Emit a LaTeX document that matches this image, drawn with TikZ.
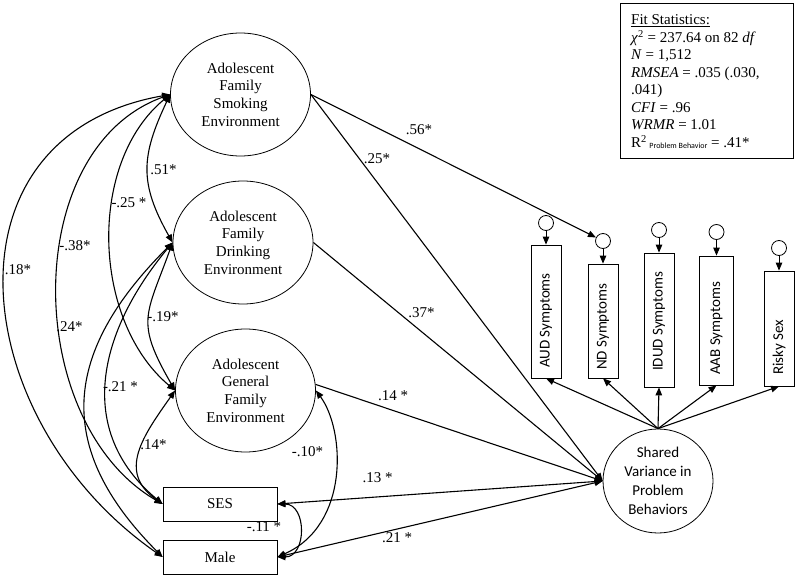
\documentclass[tikz,border=0pt]{standalone}
\usepackage{fontspec}
\setmainfont{Liberation Serif}
\newfontfamily\carlitofont{Carlito}
\usetikzlibrary{arrows.meta,shapes.geometric}
\begin{document}
\begin{tikzpicture}[x=1pt,y=-1pt,
  every node/.style={font=\fontsize{15}{17.7}\selectfont},
  latent/.style={draw, ellipse, line width=0.8pt, inner sep=0pt, align=center, minimum width=140pt, minimum height=123pt},
  obsbox/.style={draw, rectangle, line width=0.8pt, inner sep=0pt},
  errc/.style={draw, circle, line width=0.8pt, minimum size=15pt, inner sep=0pt},
  tip/.tip={Triangle[length=8pt,width=6.5pt]},
  reg/.style={line width=1.1pt, -tip},
  cov/.style={line width=1.1pt, tip-tip},
  lbl/.style={inner sep=0pt},
  indtext/.style={font=\carlitofont\fontsize{15}{18}\selectfont, rotate=90, anchor=west, inner sep=0pt},
  fitline/.style={anchor=base west, inner sep=0pt}
]
\useasboundingbox[fill=white] (0,0) rectangle (800,580);

% latent factors
\node[latent] (S) at (240.5,94.5) {Adolescent\\Family\\Smoking\\Environment};
\node[latent] (D) at (243,242.5) {Adolescent\\Family\\Drinking\\Environment};
\node[latent] (G) at (245.5,390.5) {Adolescent\\General\\Family\\Environment};
\node[obsbox, minimum width=114pt, minimum height=34pt] (SES) at (220,504) {SES};
\node[obsbox, minimum width=114pt, minimum height=34pt] (Male) at (220,557) {Male};
\node[latent, minimum width=110pt, minimum height=104pt, font=\carlitofont\fontsize{15}{19}\selectfont] (SV) at (658,481) {Shared\\Variance in\\Problem\\Behaviors};

% indicators
\node[obsbox, minimum width=30pt, minimum height=133pt] (AUD) at (546,311.5) {};
\node[obsbox, minimum width=30pt, minimum height=114pt] (ND) at (603,321) {};
\node[obsbox, minimum width=30pt, minimum height=134pt] (IDUD) at (659,320) {};
\node[obsbox, minimum width=34pt, minimum height=129pt] (AAB) at (716.5,320.5) {};
\node[obsbox, minimum width=30pt, minimum height=115pt] (RS) at (779,328.5) {};
\node[indtext] (AUDt) at (546,368) {AUD Symptoms};
\node[indtext] (NDt) at (603,370) {ND Symptoms};
\node[indtext] (IDUDt) at (659,371) {IDUD Symptoms};
\node[indtext] (AABt) at (716.5,375) {AAB Symptoms};
\node[indtext] (RSt) at (779,375) {Risky Sex};

% error terms
\node[errc] (eAUD) at (546,223) {};
\node[errc] (eND) at (603,241) {};
\node[errc] (eIDUD) at (659,230) {};
\node[errc] (eAAB) at (716.5,232) {};
\node[errc] (eRS) at (779,248) {};
\foreach \e/\b in {eAUD/AUD,eND/ND,eIDUD/IDUD,eAAB/AAB,eRS/RS}
  \draw[reg, line width=0.9pt, tip-] (\b.north) -- (\e.south);

% loadings
\foreach \b in {AUD,ND,IDUD,AAB,RS}
  \draw[reg] (SV.north) -- (\b.south);

% regressions
\draw[reg] (S.east) -- (eND);
\draw[reg] (S.east) -- (SV.west);
\draw[reg] (D.east) -- (SV.west);
\draw[reg] (G.5) -- (SV.west);
\draw[cov] (SES.east) -- (SV.west);
\draw[cov] (Male.east) -- (SV.west);

% covariances (left)
\draw[cov] (S.west) .. controls (141,156) and (139,183) .. (D.west);
\draw[cov] (S.west) .. controls (87,163) and (92,321) .. (G.west);
\draw[cov] (S.west) .. controls (19,149) and (23,423) .. (SES.west);
\draw[cov] (S.west) .. controls (-65,136) and (-33,421) .. (Male.west);
\draw[cov] (D.west) .. controls (146,316) and (135,321) .. (G.west);
\draw[cov] (D.west) .. controls (99,331) and (74,430) .. (SES.west);
\draw[cov] (D.west) .. controls (63,352) and (53,447) .. (Male.west);
\draw[cov] (G.west) .. controls (143,436) and (117,472) .. (SES.west);
% covariances (right)
\draw[cov] (G.east) .. controls (345,430) and (350,525) .. (Male.east);
\draw[cov] (SES.east) .. controls (307,504) and (307,557) .. (Male.east);

% labels
\node[lbl] (l51) at (163.5,170) {.51*};
\node[lbl] (l25a) at (129,203) {-.25 *};
\node[lbl] (l38) at (75,246) {-.38*};
\node[lbl] (l18) at (18,270) {.18*};
\node[lbl] (l24) at (69.5,327) {.24*};
\node[lbl] (l21a) at (120.5,387) {-.21 *};
\node[lbl] (l19) at (163,317) {-.19*};
\node[lbl] (l14a) at (153.5,445) {.14*};
\node[lbl] (l10) at (307.5,452) {-.10*};
\node[lbl] (l11) at (264,527) {-.11 *};
\node[lbl] (l13) at (377.5,478) {.13 *};
\node[lbl] (l21b) at (397,538) {.21 *};
\node[lbl] (l14b) at (393,396) {.14 *};
\node[lbl] (l56) at (419,130) {.56*};
\node[lbl] (l25b) at (377,159) {.25*};
\node[lbl] (l37) at (421.5,313) {.37*};

% fit statistics
\node[draw, line width=0.8pt, anchor=north west, minimum width=173pt, minimum height=155pt, inner sep=0pt] (fitbox) at (620,3) {};
\node[fitline] (f1) at (631,25) {\underline{Fit Statistics:}};
\node[fitline] (f2) at (631,42.5) {\textit{χ}\textsuperscript{2} = 237.64 on 82 \textit{df}};
\node[fitline] (f3) at (631,60) {\textit{N} = 1,512};
\node[fitline] (f4) at (631,77.5) {\textit{RMSEA} = .035 (.030,};
\node[fitline] (f5) at (631,95) {.041)};
\node[fitline] (f6) at (631,112.5) {\textit{CFI} = .96};
\node[fitline] (f7) at (631,130) {\textit{WRMR} = 1.01};
\node[fitline] (f8) at (631,147.5) {R\textsuperscript{2}\,{\carlitofont\fontsize{8}{8}\selectfont\raisebox{-1pt}{Problem Behavior}} = .41*};
\end{tikzpicture}
\end{document}
